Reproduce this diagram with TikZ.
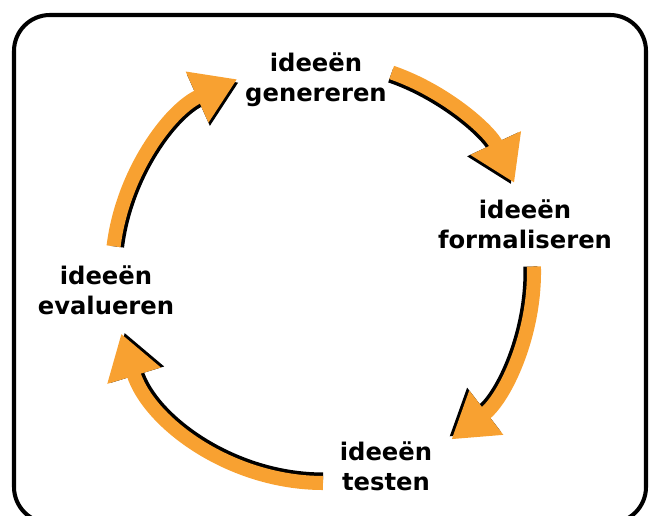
\documentclass[tikz,border=0pt]{standalone}
\usepackage{fontspec}
\setmainfont{DejaVu Sans}
\usetikzlibrary{arrows.meta, positioning}
\definecolor{cycorange}{HTML}{F8A131}
\definecolor{framegray}{HTML}{000000}

\begin{document}
\begin{tikzpicture}[
  x=0.02cm, y=0.02cm,
  stage/.style={font=\bfseries\fontsize{13.8}{17}\selectfont, align=center, inner sep=0pt},
  cyc/.style={line width=8pt, -{Triangle[length=25pt, width=30pt]}},
]

% Dimensions (in px of the 650x516 canvas)
\pgfmathsetmacro{\cx}{323}     % circle centre x
\pgfmathsetmacro{\cy}{244}     % circle centre y
\pgfmathsetmacro{\rad}{211}    % circle radius
\pgfmathsetmacro{\rin}{207.5}  % radius of the shadow

\useasboundingbox (0,0) rectangle (650,516);

% Frame
\draw[framegray, line width=2.3pt, rounded corners=0.72cm] (14,501) rectangle (646,-7);

% Stages
\node[stage] (gen)  at (316,436) {ideeën\\genereren};
\node[stage] (form) at (525,292) {ideeën\\formaliseren};
\node[stage] (test) at (386,50)  {ideeën\\testen};
\node[stage] (eval) at (106,226) {ideeën\\evalueren};

% Cycle arrows: black shadow first, orange on top
\coordinate (c) at (\cx,\cy);
\foreach \a/\b in {71/25, 1.5/-52.5, -90/-163, 173/114} {
  \draw[cyc, black] (c) ++(\a:\rin) arc[start angle=\a, end angle=\b, radius=\rin];
  \draw[cyc, cycorange] (c) ++(\a:\rad) arc[start angle=\a, end angle=\b, radius=\rad];
}

\end{tikzpicture}
\end{document}
